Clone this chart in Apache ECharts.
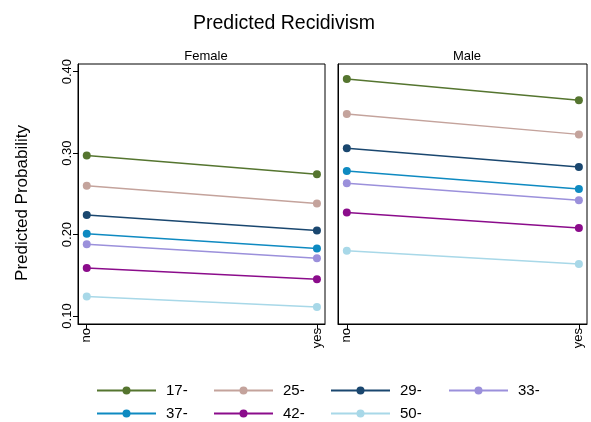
<!DOCTYPE html>
<html><head><meta charset="utf-8">
<script src="https://cdn.jsdelivr.net/npm/echarts@6/dist/echarts.min.js"></script>
<style>html,body{margin:0;padding:0;background:#fff}#c{width:591px;height:422px}</style>
</head><body><div id="c"></div>
<script>
const categories = ['no', 'yes'];
const ageGroups = ['17-', '25-', '29-', '33-', '37-', '42-', '50-'];
const colors = ['#55752f', '#c4a39c', '#1a476f', '#9b90db', '#0e8ac1', '#8b0c8b', '#a8d8e8'];
const female = [
  [0.297, 0.274],
  [0.260, 0.238],
  [0.224, 0.205],
  [0.188, 0.171],
  [0.201, 0.183],
  [0.159, 0.145],
  [0.124, 0.111]
];
const male = [
  [0.391, 0.365],
  [0.348, 0.323],
  [0.306, 0.283],
  [0.263, 0.242],
  [0.278, 0.256],
  [0.227, 0.208],
  [0.180, 0.164]
];
const yTicks = [0.1, 0.2, 0.3, 0.4];

const font = 'Liberation Sans, Arial, sans-serif';
const chart = echarts.init(document.getElementById('c'));

function xAxis(idx) {
  return {
    type: 'value', gridIndex: idx, min: -0.038, max: 1.035, interval: 1,
    splitLine: {show: false},
    axisLine: {show: true, onZero: false, lineStyle: {color: '#000'}},
    axisTick: {show: true, customValues: [0, 1], length: 5, lineStyle: {color: '#000'}},
    axisLabel: {show: true, customValues: [0, 1], rotate: 90, color: '#000', fontSize: 13, fontFamily: font, margin: 4,
      formatter: v => categories[Math.round(v)]}
  };
}
function yAxis(idx, showLabels) {
  return {
    type: 'value', gridIndex: idx, min: 0.0902, max: 0.4094,
    splitLine: {show: false},
    axisLine: {show: true, onZero: false, lineStyle: {color: '#000'}},
    axisTick: {show: showLabels, customValues: yTicks, length: 5, lineStyle: {color: '#000'}},
    axisLabel: {show: showLabels, customValues: yTicks, rotate: 90, color: '#000', fontSize: 13, fontFamily: font, margin: 4,
      formatter: v => v.toFixed(2)}
  };
}

const series = [];
[female, male].forEach((panel, gi) => {
  panel.forEach((vals, i) => {
    series.push({
      name: ageGroups[i], type: 'line', xAxisIndex: gi, yAxisIndex: gi,
      data: vals.map((v, j) => [j, v]),
      symbol: 'circle', symbolSize: 8,
      lineStyle: {width: 1.5, color: colors[i]},
      itemStyle: {color: colors[i]},
      animation: false
    });
  });
});

// legend: 4 columns x 2 rows, one legend component per item
const legendLefts = [96, 213, 330, 448];
const legendTops = [383, 406];
const legends = ageGroups.map((name, k) => ({
  orient: 'horizontal', left: legendLefts[k % 4], top: legendTops[Math.floor(k / 4)], padding: 0,
  itemWidth: 59, itemHeight: 10,
  textStyle: {fontSize: 15, color: '#000', fontFamily: font, padding: [0, 0, 0, 5]},
  data: [name]
}));

chart.setOption({
  backgroundColor: '#fff',
  animation: false,
  title: [
    {text: 'Predicted Recidivism', left: 279, top: 9, textAlign: 'center', textStyle: {fontSize: 19.5, fontWeight: 'normal', color: '#000', fontFamily: font}},
    {text: 'Female', left: 201, top: 45, textAlign: 'center', textStyle: {fontSize: 13, fontWeight: 'normal', color: '#000', fontFamily: font}},
    {text: 'Male', left: 462, top: 45, textAlign: 'center', textStyle: {fontSize: 13, fontWeight: 'normal', color: '#000', fontFamily: font}}
  ],
  graphic: [{
    type: 'text', x: 22, y: 203, rotation: Math.PI / 2,
    style: {text: 'Predicted Probability', fontSize: 17, fill: '#000', fontFamily: font, align: 'center', verticalAlign: 'middle'}
  }],
  grid: [
    {left: 78, top: 64, width: 247, height: 260, show: true, borderColor: '#000', borderWidth: 1, backgroundColor: '#fff'},
    {left: 338, top: 64, width: 249, height: 260, show: true, borderColor: '#000', borderWidth: 1, backgroundColor: '#fff'}
  ],
  xAxis: [xAxis(0), xAxis(1)],
  yAxis: [yAxis(0, true), yAxis(1, false)],
  legend: legends,
  series: series
});
</script></body></html>
